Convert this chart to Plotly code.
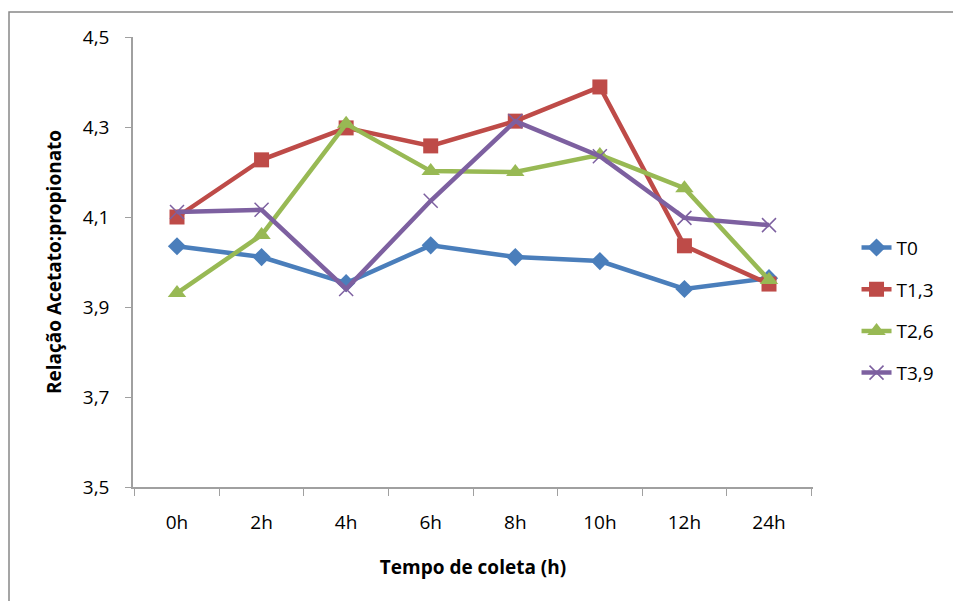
import plotly.graph_objects as go

categories = ["0h", "2h", "4h", "6h", "8h", "10h", "12h", "24h"]
t0 = [4.035, 4.011, 3.953, 4.037, 4.011, 4.002, 3.940, 3.964]
t13 = [4.100, 4.227, 4.298, 4.258, 4.313, 4.389, 4.036, 3.951]
t26 = [3.931, 4.060, 4.307, 4.202, 4.200, 4.238, 4.164, 3.960]
t39 = [4.111, 4.116, 3.940, 4.136, 4.313, 4.235, 4.098, 4.082]
series_names = ["T0", "T1,3", "T2,6", "T3,9"]
yticks = [3.5, 3.7, 3.9, 4.1, 4.3, 4.5]
ytick_labels = ["3,5", "3,7", "3,9", "4,1", "4,3", "4,5"]

colors = ["#4A7EBB", "#BE4B48", "#98B954", "#7D60A0"]
symbols = ["diamond", "square", "triangle-up", "x-thin"]
sizes = [14, 15, 16, 14]

fig = go.Figure()
for name, vals, c, s, sz in zip(series_names, [t0, t13, t26, t39], colors, symbols, sizes):
    marker = dict(symbol=s, size=sz, color=c)
    if s == "x-thin":
        marker["line"] = dict(color=c, width=1.5)
    fig.add_trace(go.Scatter(
        x=categories, y=vals, name=name, mode="lines+markers",
        line=dict(color=c, width=4.5), marker=marker, legendgroup=name,
    ))

font_family = "Open Sans, Liberation Sans, sans-serif"
fig.update_layout(
    width=953, height=601,
    margin=dict(l=133, r=140, t=37, b=114),
    paper_bgcolor="white", plot_bgcolor="white",
    font=dict(family=font_family, size=19, color="black"),
    showlegend=True,
    legend=dict(x=1.064, y=0.393, xanchor="left", yanchor="middle",
                font=dict(size=19), tracegroupgap=14),
    xaxis=dict(
        type="category", showline=True, linecolor="#A0A0A0", linewidth=1.5,
        ticks="outside", ticklen=7, tickcolor="#A0A0A0", tickson="boundaries",
        ticklabelstandoff=17,
        showgrid=False, zeroline=False,
        title=dict(text="<b>Tempo de coleta (h)</b>", font=dict(size=19), standoff=27),
        tickfont=dict(size=19),
    ),
    yaxis=dict(
        range=[3.5, 4.5], tickvals=yticks, ticktext=ytick_labels,
        showline=True, linecolor="#A0A0A0", linewidth=1.5,
        ticks="outside", ticklen=6, tickcolor="#A0A0A0",
        ticklabelstandoff=12,
        showgrid=False, zeroline=False,
        title=dict(text="<b>Relação Acetato:propionato</b>", font=dict(size=19), standoff=16),
        tickfont=dict(size=19),
    ),
)

# outer chart border (only left/top visible in the frame)
fig.add_shape(type="rect", xref="paper", yref="paper",
              x0=(9 - 133) / 680, x1=1.3, y0=-0.4, y1=(487 - 12) / 450,
              line=dict(color="#888888", width=1.5), layer="below")

fig.write_html("out.html")
